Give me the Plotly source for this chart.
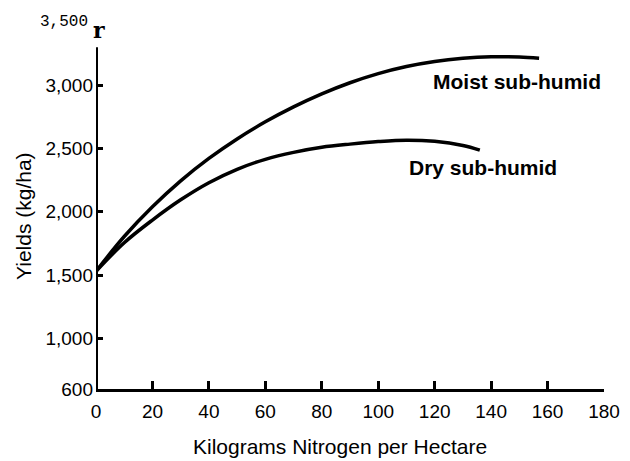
import plotly.graph_objects as go

# Data
nitrogen_moist = [0, 10, 20, 30, 40, 50, 60, 70, 80, 90, 100, 110, 120, 130, 140, 150, 157]
yield_moist = [1530, 1805, 2040, 2245, 2422, 2576, 2711, 2829, 2932, 3020, 3092, 3148, 3188, 3213, 3225, 3223, 3214]

nitrogen_dry = [0, 10, 20, 30, 40, 50, 60, 70, 80, 90, 100, 110, 120, 130, 136]
yield_dry = [1530, 1756, 1935, 2095, 2230, 2336, 2415, 2470, 2510, 2535, 2555, 2566, 2557, 2524, 2487]

x_ticks = [0, 20, 40, 60, 80, 100, 120, 140, 160, 180]
y_ticks = [600, 1000, 1500, 2000, 2500, 3000]
y_tick_text = ["600", "1,000", "1,500", "2,000", "2,500", "3,000"]

FONT = "Liberation Sans"

# The page body has an 8px margin, so the figure is drawn at (8, 8).
OFF = 8
W, H = 630 - OFF, 461 - OFF
L, R, T, B = 96 - OFF, 26, 22 - OFF, 72
PLOT_LEFT, PLOT_RIGHT = 96, 604      # page pixels
PLOT_TOP, PLOT_BOTTOM = 22, 389
PW, PH = PLOT_RIGHT - PLOT_LEFT, PLOT_BOTTOM - PLOT_TOP


def px(xp):
    return (xp - PLOT_LEFT) / PW


def py(yp):
    return (PLOT_BOTTOM - yp) / PH


fig = go.Figure()
fig.add_trace(go.Scatter(x=nitrogen_moist, y=yield_moist, mode="lines",
                         line=dict(color="black", width=3.5, shape="spline"),
                         name="Moist sub-humid", showlegend=False))
fig.add_trace(go.Scatter(x=nitrogen_dry, y=yield_dry, mode="lines",
                         line=dict(color="black", width=3.5, shape="spline"),
                         name="Dry sub-humid", showlegend=False))

# y-axis line (stops below the top, as in the scan)
fig.add_shape(type="line", xref="x", yref="y", x0=0, x1=0, y0=600, y1=3300,
              line=dict(color="black", width=4))

fig.add_annotation(x=149, y=3031, xref="x", yref="y", text="<b>Moist sub-humid</b>",
                   showarrow=False, font=dict(family=FONT, size=21, color="black"))
fig.add_annotation(x=137, y=2352, xref="x", yref="y", text="<b>Dry sub-humid</b>",
                   showarrow=False, font=dict(family=FONT, size=21, color="black"))
fig.add_annotation(x=0, y=3500, xref="paper", yref="y", text="3,500",
                   xanchor="right", xshift=-6, showarrow=False,
                   font=dict(family="Liberation Mono", size=16, color="black"))
fig.add_annotation(x=0, y=3500, xref="x", yref="y", text="<b>r</b>",
                   xanchor="left", xshift=-5, yshift=-8, showarrow=False,
                   font=dict(family="DejaVu Serif", size=22, color="black"))
# axis titles
fig.add_annotation(text="Kilograms Nitrogen per Hectare", showarrow=False,
                   xref="paper", yref="paper", x=px(340), y=py(447),
                   xanchor="center", yanchor="middle",
                   font=dict(family=FONT, size=21, color="black"))
fig.add_annotation(text="Yields (kg/ha)", textangle=-90, showarrow=False,
                   xref="paper", yref="paper", x=px(23), y=py(216),
                   xanchor="center", yanchor="middle",
                   font=dict(family=FONT, size=21, color="black"))

fig.update_layout(
    width=W, height=H,
    margin=dict(l=L, r=R, t=T, b=B),
    paper_bgcolor="white", plot_bgcolor="white",
    font=dict(family=FONT, color="black"),
    xaxis=dict(range=[0, 180], tickvals=x_ticks, ticks="inside", ticklen=8, tickwidth=3,
               tickcolor="black", showline=True, linecolor="black", linewidth=3,
               showgrid=False, zeroline=False, tickfont=dict(size=19),
               ticklabelstandoff=3, automargin=False),
    yaxis=dict(range=[600, 3500], tickvals=y_ticks, ticktext=y_tick_text, ticks="inside",
               ticklen=7, tickwidth=3, tickcolor="black", showline=False,
               showgrid=False, zeroline=False, tickfont=dict(size=19),
               ticklabelstandoff=2, automargin=False),
)

fig.write_html("out.html")
